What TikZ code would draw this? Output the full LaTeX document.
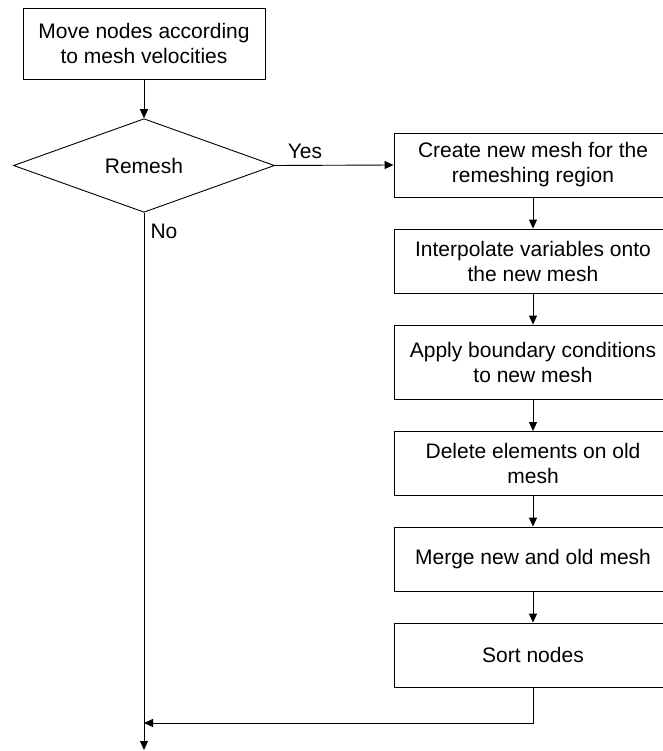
\documentclass[tikz,border=0pt]{standalone}
\usepackage{fontspec}
\setmainfont{Liberation Sans}
\usetikzlibrary{shapes.geometric,arrows.meta}
\begin{document}
\begin{tikzpicture}[x=1pt,y=-1pt,line width=0.9pt,
  every node/.style={font=\fontsize{21}{25}\selectfont,align=center},
  box/.style={draw,rectangle,inner sep=0pt,minimum width=278pt,minimum height=64pt},
  arr/.style={-{Triangle[length=9pt,width=8pt]}}]
\useasboundingbox (0,0) rectangle (662,751);
\node [draw,inner sep=0pt,minimum width=242pt,minimum height=71pt] (move) at (144,43.5) {Move nodes according\\to mesh velocities};
\node [draw,diamond,inner sep=0pt,minimum width=261pt,minimum height=91pt] (remesh) at (144,165.5) {Remesh};
\node [box] (create) at (533,165) {Create new mesh for the\\remeshing region};
\node [box] (interp) at (533,261) {Interpolate variables onto\\the new mesh};
\node [box,minimum height=74pt] (apply) at (533,362) {Apply boundary conditions\\to new mesh};
\node [box] (delete) at (533,463.5) {Delete elements on old\\mesh};
\node [box] (merge) at (533,559) {Merge new and old mesh};
\node [box] (sort) at (533,655) {Sort nodes};
\coordinate (join) at (144,723);
\coordinate (out) at (144,750);
\draw [arr] (move) -- (remesh);
\draw [arr] (remesh.east) -- (create.west);
\draw (305,151) node {Yes};
\draw (164,231) node {No};
\draw [arr] (create) -- (interp);
\draw [arr] (interp) -- (apply);
\draw [arr] (apply) -- (delete);
\draw [arr] (delete) -- (merge);
\draw [arr] (merge) -- (sort);
\draw [arr] (sort.south) |- (join);
\draw [arr] (remesh.south) -- (out);
\end{tikzpicture}
\end{document}
